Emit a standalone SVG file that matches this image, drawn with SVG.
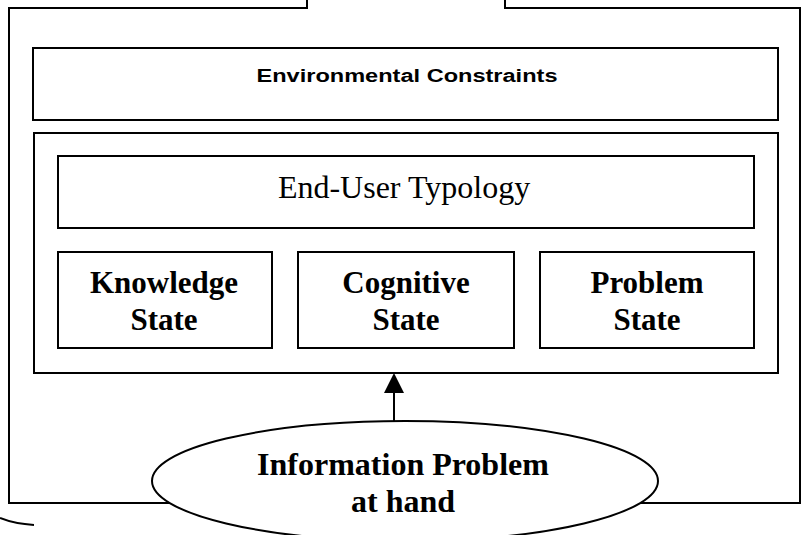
<svg xmlns="http://www.w3.org/2000/svg" width="802" height="535" viewBox="0 0 802 535">
  <style>
    .box { fill: #fff; stroke: #000; stroke-width: 2; }
    .line { fill: none; stroke: #000; stroke-width: 2; }
    .sans { font-family: "Liberation Sans", Arial, sans-serif; font-weight: bold; font-size: 18px; text-anchor: middle; }
    .serif { font-family: "Liberation Serif", "Times New Roman", serif; font-size: 32px; text-anchor: middle; }
    .b { font-weight: bold; font-size: 31px; }
    .big { font-size: 32px; }
  </style>

  <!-- outer frame with an opening at the top -->
  <g id="frame">
    <path class="line" d="M307,0 V8 H9 V503 H800 V8 H505 V0"/>
    <path class="line" d="M0,518 Q15,524 34,525"/>
  </g>

  <g id="environmental-constraints">
    <rect class="box" x="33" y="48" width="745" height="72"/>
    <text class="sans" x="407" y="82" textLength="301" lengthAdjust="spacingAndGlyphs">Environmental Constraints</text>
  </g>

  <g id="user-container">
    <rect class="box" x="34" y="133" width="744" height="240"/>
  </g>

  <g id="end-user-typology">
    <rect class="box" x="58" y="156" width="696" height="72"/>
    <text class="serif" x="404" y="198">End-User Typology</text>
  </g>

  <g id="knowledge-state">
    <rect class="box" x="58" y="252" width="214" height="96"/>
    <text class="serif b" x="164" y="293">Knowledge</text>
    <text class="serif b" x="164" y="330">State</text>
  </g>

  <g id="cognitive-state">
    <rect class="box" x="298" y="252" width="216" height="96"/>
    <text class="serif b" x="406" y="293">Cognitive</text>
    <text class="serif b" x="406" y="330">State</text>
  </g>

  <g id="problem-state">
    <rect class="box" x="540" y="252" width="214" height="96"/>
    <text class="serif b" x="647" y="293">Problem</text>
    <text class="serif b" x="647" y="330">State</text>
  </g>

  <g id="connectors">
    <line class="line" x1="394" y1="421" x2="394" y2="390"/>
    <polygon points="394,373 384,393 404,393" fill="#000"/>
  </g>

  <g id="information-problem">
    <ellipse class="box" cx="405" cy="481" rx="253" ry="60"/>
    <text class="serif b big" x="403" y="475">Information Problem</text>
    <text class="serif b big" x="403" y="512">at hand</text>
  </g>
</svg>
